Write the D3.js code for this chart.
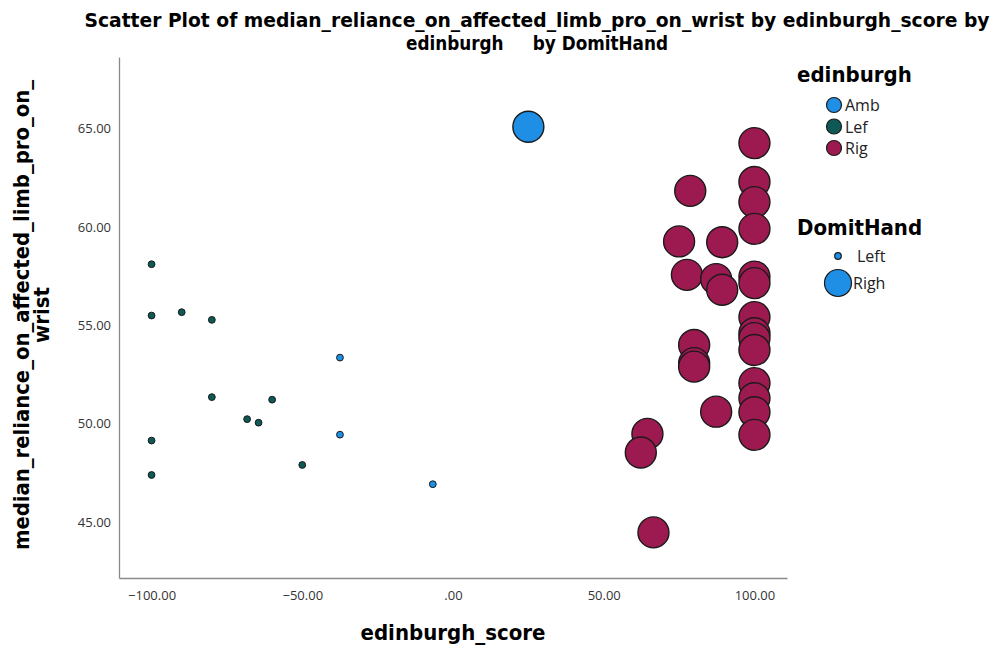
<!DOCTYPE html>
<html><head><meta charset="utf-8">
<script src="https://cdn.jsdelivr.net/npm/d3@7"></script>
<style>body{margin:0;background:#fff}svg{display:block}</style>
</head><body><svg id="c" width="1000" height="650"></svg>
<script>
// Data: edinburgh_score, median reliance, edinburgh group, DomitHand
const scoreLeft = [-100,-100,-90,-80,-37.5,-80,-60,-68.3,-64.5,-37.5,-100,-50,-100,-6.7];
const relianceLeft = [58.11,55.5,55.67,55.28,53.36,51.35,51.22,50.23,50.05,49.44,49.14,47.9,47.39,46.92];
const groupLeft = ["Lef","Lef","Lef","Lef","Amb","Lef","Lef","Lef","Lef","Amb","Lef","Lef","Lef","Amb"];

const scoreRight = [25,100,100,100,78.7,100,75,89.3,77.6,87.3,89.3,100,100,100,100,100,100,80,80,80,100,100,100,100,87.3,64.5,62.3,66.5];
const relianceRight = [65.1,64.27,62.29,61.27,61.84,59.91,59.27,59.23,57.57,57.35,56.81,57.48,57.15,55.42,54.6,54.35,53.75,54.0,53.08,52.9,52.06,51.29,50.58,49.43,50.61,49.48,48.53,44.47];
const groupRight = ["Amb","Rig","Rig","Rig","Rig","Rig","Rig","Rig","Rig","Rig","Rig","Rig","Rig","Rig","Rig","Rig","Rig","Rig","Rig","Rig","Rig","Rig","Rig","Rig","Rig","Rig","Rig","Rig"];

const groups = ["Amb","Lef","Rig"];
const groupColors = ["#1f8fe6","#0c5956","#9c1a50"];
const hands = ["Left","Righ"];
const xTicks = [-100,-50,0,50,100];
const yTicks = [45,50,55,60,65];

const svg = d3.select("#c");
const L=119, R=787, T=57, B=578;
const x = d3.scaleLinear().domain([-110.8,110.8]).range([L,R]);
const y = d3.scaleLinear().domain([42.15,68.65]).range([B,T]);
const color = d3.scaleOrdinal().domain(groups).range(groupColors);
const size = d3.scaleOrdinal().domain(hands).range([3.4,15.5]);
const fmt = v => { const s = d3.format(".2f")(v); return s.replace(/^0\./,".").replace(/^-0\./,"-."); };

const font = "'Liberation Sans Narrow','DejaVu Sans Condensed',sans-serif";
const tickFont = "'Open Sans','DejaVu Sans',sans-serif";

// title
svg.append("text").attr("x",537).attr("y",27).attr("text-anchor","middle")
  .attr("font-family",font).attr("font-weight","bold").attr("font-size",19)
  .attr("textLength",905).attr("lengthAdjust","spacingAndGlyphs")
  .text("Scatter Plot of median_reliance_on_affected_limb_pro_on_wrist by edinburgh_score by");
svg.append("text").attr("x",537).attr("y",50).attr("text-anchor","middle")
  .attr("font-family",font).attr("font-weight","bold").attr("font-size",19)
  .attr("xml:space","preserve").attr("textLength",262).attr("lengthAdjust","spacingAndGlyphs")
  .text("edinburgh     by DomitHand");

// axes
const xAxis = d3.axisBottom(x).tickValues(xTicks).tickFormat(fmt).tickSize(0).tickPadding(13);
const gx = svg.append("g").attr("transform",`translate(0,${B})`).call(xAxis);
gx.select(".domain").attr("stroke","#8a8a8a").attr("stroke-width",1.3);
gx.selectAll("text").attr("font-family",tickFont).attr("font-size",13).attr("fill","#333");

const yAxis = d3.axisLeft(y).tickValues(yTicks).tickFormat(fmt).tickSize(0).tickPadding(8);
const gy = svg.append("g").attr("transform",`translate(${L},0)`).call(yAxis);
gy.select(".domain").attr("stroke","#8a8a8a").attr("stroke-width",1.3);
gy.selectAll("text").attr("font-family",tickFont).attr("font-size",13).attr("fill","#333");

// axis titles
svg.append("text").attr("x",453).attr("y",640).attr("text-anchor","middle")
  .attr("font-family",font).attr("font-weight","bold").attr("font-size",22).text("edinburgh_score");
const yt = svg.append("text").attr("transform","translate(29,315) rotate(-90)").attr("text-anchor","middle")
  .attr("font-family",font).attr("font-weight","bold").attr("font-size",22);
yt.append("tspan").attr("x",0).attr("y",0).attr("textLength",470).attr("lengthAdjust","spacingAndGlyphs").text("median_reliance_on_affected_limb_pro_on_");
yt.append("tspan").attr("x",0).attr("y",20).text("wrist");

// points
const pts = [];
scoreLeft.forEach((s,i)=>pts.push({x:s,y:relianceLeft[i],g:groupLeft[i],h:"Left"}));
scoreRight.forEach((s,i)=>pts.push({x:s,y:relianceRight[i],g:groupRight[i],h:"Righ"}));
svg.append("g").selectAll("circle").data(pts).join("circle")
  .attr("cx",d=>x(d.x)).attr("cy",d=>y(d.y)).attr("r",d=>size(d.h))
  .attr("fill",d=>color(d.g)).attr("stroke","#1a1a1a").attr("stroke-width",d=>d.h==="Left"?1:1.4);

// legend
const lg = svg.append("g");
lg.append("text").attr("x",797).attr("y",82).attr("font-family",font).attr("font-weight","bold")
  .attr("font-size",22).text("edinburgh");
groups.forEach((g,i)=>{
  const cy = 105 + i*21.5;
  lg.append("circle").attr("cx",834).attr("cy",cy).attr("r",7.5).attr("fill",color(g))
    .attr("stroke","#1a1a1a").attr("stroke-width",1.2);
  lg.append("text").attr("x",845).attr("y",cy+6).attr("font-family","'Open Sans','DejaVu Sans',sans-serif")
    .attr("font-size",16).attr("fill","#222").text(g);
});
lg.append("text").attr("x",797).attr("y",235).attr("font-family",font).attr("font-weight","bold")
  .attr("font-size",22).text("DomitHand");
hands.forEach((h,i)=>{
  const cy = [256,283][i];
  lg.append("circle").attr("cx",838).attr("cy",cy).attr("r",h==="Left"?3.3:13.5).attr("fill","#1f8fe6")
    .attr("stroke","#1a1a1a").attr("stroke-width",1.2);
  lg.append("text").attr("x",[857,853][i]).attr("y",cy+6).attr("font-family","'Open Sans','DejaVu Sans',sans-serif")
    .attr("font-size",16).attr("fill","#222").text(h);
});
</script></body></html>
